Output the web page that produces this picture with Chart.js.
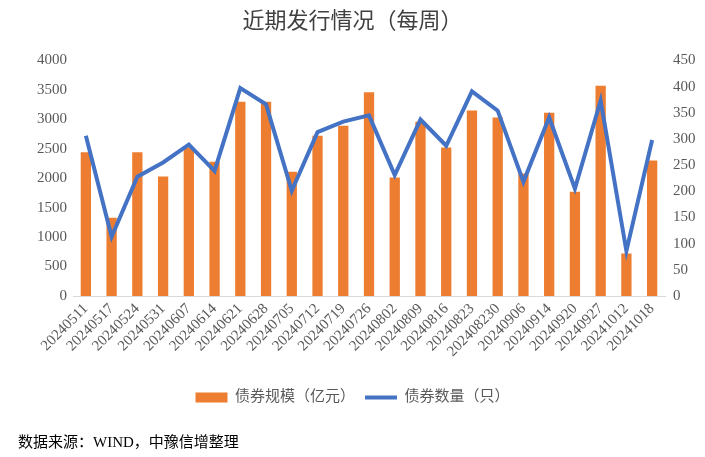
<!DOCTYPE html>
<html>
<head>
<meta charset="utf-8">
<script src="https://cdn.jsdelivr.net/npm/chart.js@4"></script>
<style>
    body { margin: 0; background: #fff; }
    #wrap { position: relative; width: 705px; height: 457px; }
    #source {
        position: absolute; left: 18px; top: 430px;
        font: 15px "Liberation Serif", "Noto Sans CJK SC", serif;
        color: #000;
    }
</style>
</head>
<body>
<div id="wrap">
    <canvas id="chart" width="705" height="457"></canvas>
    <div id="source">数据来源：WIND，中豫信增整理</div>
</div>
<script>
const weeks = ['20240511', '20240517', '20240524', '20240531', '20240607', '20240614', '20240621', '20240628',
    '20240705', '20240712', '20240719', '20240726', '20240802', '20240809', '20240816', '20240823',
    '202408230', '20240906', '20240914', '20240920', '20240927', '20241012', '20241018'];
const issueAmount = [2440, 1330, 2440, 2030, 2520, 2280, 3300, 3300, 2110, 2720, 2890, 3460,
    2010, 2960, 2520, 3150, 3030, 2080, 3110, 1770, 3570, 720, 2300];
const issueCount = [306, 113, 228, 255, 289, 239, 397, 366, 201, 313, 333, 345,
    231, 337, 287, 391, 354, 218, 341, 205, 373, 86, 298];
const leftTicks = [0, 4000, 500];
const rightTicks = [0, 450, 50];

const serif = '"Liberation Serif", "Noto Sans CJK SC", serif';
const grey = '#595959';

new Chart(document.getElementById('chart'), {
    data: {
        labels: weeks,
        datasets: [
            {
                type: 'bar',
                label: '债券规模（亿元）',
                data: issueAmount,
                backgroundColor: '#ED7D31',
                yAxisID: 'y',
                barPercentage: 0.4,
                categoryPercentage: 1,
                order: 2
            },
            {
                type: 'line',
                label: '债券数量（只）',
                data: issueCount,
                borderColor: '#4472C4',
                backgroundColor: '#4472C4',
                borderWidth: 4,
                pointRadius: 0,
                tension: 0,
                yAxisID: 'y1',
                order: 1
            }
        ]
    },
    options: {
        responsive: false,
        animation: false,
        devicePixelRatio: 1,
        layout: { padding: { left: 0, right: 0, top: 0, bottom: 42 } },
        plugins: {
            title: {
                display: true,
                text: '近期发行情况（每周）',
                color: '#404040',
                font: { size: 22, family: serif, weight: 'normal' },
                padding: { top: 9, bottom: 25 }
            },
            legend: {
                position: 'bottom',
                labels: {
                    color: grey,
                    font: { size: 15, family: serif },
                    usePointStyle: true,
                    pointStyleWidth: 32,
                    boxHeight: 10,
                    padding: 10,
                    sort: (a, b) => a.datasetIndex - b.datasetIndex,
                    generateLabels(chart) {
                        const items = Chart.defaults.plugins.legend.labels.generateLabels(chart);
                        items.forEach(item => {
                            if (item.datasetIndex === 0) {
                                item.pointStyle = 'rect';
                                item.lineWidth = 0;
                            } else {
                                item.pointStyle = 'line';
                                item.lineWidth = 4;
                            }
                        });
                        return items;
                    }
                }
            },
            tooltip: { enabled: false }
        },
        scales: {
            x: {
                grid: { display: false, drawTicks: false },
                border: { display: true, color: '#d9d9d9', width: 1 },
                ticks: {
                    color: grey,
                    font: { size: 15, family: serif },
                    maxRotation: 45,
                    minRotation: 45,
                    autoSkip: false,
                    padding: 4
                },
                afterFit(scale) { scale.height = 84; }
            },
            y: {
                position: 'left',
                min: leftTicks[0],
                max: leftTicks[1],
                grid: { display: false, drawTicks: false },
                border: { display: false },
                ticks: {
                    stepSize: leftTicks[2],
                    color: grey,
                    font: { size: 15, family: serif },
                    padding: 6,
                    callback: v => String(v)
                },
                afterFit(scale) { scale.width = 73; }
            },
            y1: {
                position: 'right',
                min: rightTicks[0],
                max: rightTicks[1],
                grid: { display: false, drawTicks: false },
                border: { display: false },
                ticks: {
                    stepSize: rightTicks[2],
                    color: grey,
                    font: { size: 15, family: serif },
                    padding: 8,
                    callback: v => String(v)
                },
                afterFit(scale) { scale.width = 40; }
            }
        }
    }
});
</script>
</body>
</html>
